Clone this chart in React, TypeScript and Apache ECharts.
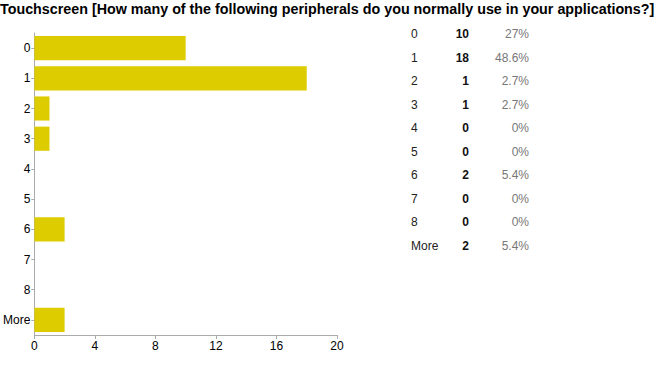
import React, { useEffect, useRef } from "react";
import * as echarts from "echarts";

const titleText = "Touchscreen [How many of the following peripherals do you normally use in your applications?]";
const categories = ["0", "1", "2", "3", "4", "5", "6", "7", "8", "More"];
const counts = [10, 18, 1, 1, 0, 0, 2, 0, 0, 2];
const percents = ["27%", "48.6%", "2.7%", "2.7%", "0%", "0%", "5.4%", "0%", "0%", "5.4%"];

export default function App() {
  const ref = useRef<HTMLDivElement>(null);
  useEffect(() => {
    if (!ref.current) return;
    const chart = echarts.init(ref.current, null, { renderer: "svg" });
    const font = "Liberation Sans, Arial, sans-serif";
    const rowTop = 34;
    const rowStep = 23.5;
    const tableTexts: any[] = [];
    categories.forEach((c, i) => {
      const y = rowTop + i * rowStep;
      tableTexts.push({
        type: "text", x: 411, y,
        style: { text: c, font: `12px ${font}`, fill: "#222", verticalAlign: "middle" },
      });
      tableTexts.push({
        type: "text", x: 469, y,
        style: { text: String(counts[i]), font: `bold 12px ${font}`, fill: "#111", align: "right", verticalAlign: "middle" },
      });
      tableTexts.push({
        type: "text", x: 529, y,
        style: { text: percents[i], font: `12px ${font}`, fill: "#777", align: "right", verticalAlign: "middle" },
      });
    });
    chart.setOption({
      animation: false,
      title: {
        text: titleText, left: 0, top: 0, padding: [2, 0, 0, 0],
        textStyle: { fontFamily: font, fontWeight: "bold", fontSize: 14.3, color: "#000" },
      },
      grid: { left: 33, right: 333, top: 33, bottom: 34, containLabel: false },
      xAxis: {
        type: "value", min: 0, max: 20, interval: 4,
        axisLine: { show: true, lineStyle: { color: "#aaa" } },
        axisTick: { show: true, length: 4, lineStyle: { color: "#aaa" } },
        splitLine: { show: false },
        axisLabel: { color: "#000", fontSize: 12, fontFamily: font, margin: 5 },
      },
      yAxis: {
        type: "category", data: categories, inverse: true,
        axisLine: { show: true, lineStyle: { color: "#aaa" } },
        axisTick: { show: true, alignWithLabel: true, length: 3, lineStyle: { color: "#aaa" } },
        axisLabel: { color: "#000", fontSize: 12, fontFamily: font, margin: 4 },
      },
      series: [{
        type: "bar", data: counts, barCategoryGap: "20%",
        itemStyle: { color: "#DDCC00" },
      }],
      graphic: tableTexts,
    });
    return () => chart.dispose();
  }, []);
  return <div ref={ref} style={{ position: "absolute", left: 0, top: 0, width: 670, height: 369 }} />;
}
